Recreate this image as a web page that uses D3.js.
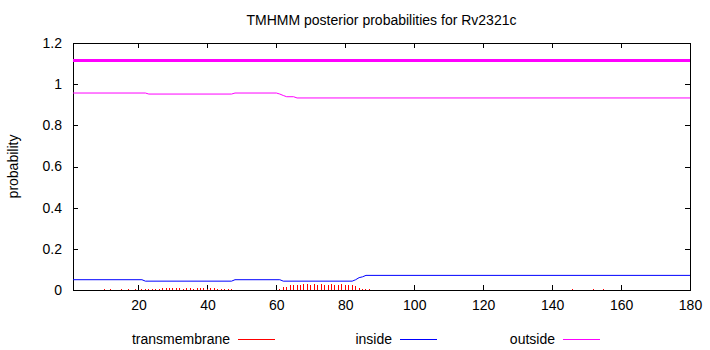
<!DOCTYPE html>
<html>
<head>
<meta charset="utf-8">
<script src="https://cdn.jsdelivr.net/npm/d3@7"></script>
<style>
  body { margin: 0; background: #fff; }
  text { font-family: "Liberation Sans", Arial, sans-serif; font-size: 14px; fill: #000; }
</style>
</head>
<body>
<div class="chart"></div>
<script>
// residue positions / probabilities
const outsidePos = [1, 22, 23, 47, 48, 60, 61, 62, 63, 65, 66, 180];
const outsideVal = [0.957, 0.957, 0.952, 0.952, 0.957, 0.957, 0.952, 0.945, 0.939, 0.939, 0.933, 0.933];

const insidePos = [1, 21, 22, 47, 48, 61, 62, 82, 83, 84, 85, 86, 180];
const insideVal = [0.050, 0.050, 0.043, 0.043, 0.050, 0.050, 0.043, 0.043, 0.050, 0.060, 0.064, 0.071, 0.071];

const tmPos = [10, 12, 15, 17, 19, 21, 22, 23, 24, 25, 26, 27, 28, 29, 30, 31, 32, 33, 34, 35, 36, 37, 38, 39, 40,
  41, 42, 43, 44, 45, 46, 47, 61, 62, 63, 64, 65, 66, 67, 68, 69, 70, 71, 72, 73, 74, 75, 76, 77, 78, 79, 80,
  81, 82, 83, 84, 85, 86, 87, 146, 152, 155];
const tmVal = [0.004, 0.004, 0.004, 0.004, 0.005, 0.005, 0.005, 0.006, 0.006, 0.006, 0.007, 0.009, 0.011, 0.011, 0.012, 0.009,
  0.011, 0.006, 0.008, 0.011, 0.006, 0.008, 0.009, 0.011, 0.006, 0.011, 0.008, 0.006, 0.006, 0.006, 0.006, 0.005,
  0.005, 0.014, 0.016, 0.026, 0.026, 0.026, 0.026, 0.027, 0.029, 0.026, 0.029, 0.024, 0.029, 0.026, 0.026, 0.029,
  0.024, 0.026, 0.029, 0.026, 0.026, 0.026, 0.020, 0.008, 0.005, 0.005, 0.004, 0.003, 0.003, 0.003];

// predicted topology band drawn above the curves
const topoStart = [1];
const topoEnd = [180];
const topoLevel = 1.115;

const xTicks = [20, 40, 60, 80, 100, 120, 140, 160, 180];
const yTicks = [0, 0.2, 0.4, 0.6, 0.8, 1, 1.2];
const yTickLabels = ["0", "0.2", "0.4", "0.6", "0.8", "1", "1.2"];

const legendNames = ["transmembrane", "inside", "outside"];
const legendColors = ["#ff0000", "#0000ff", "#ff00ff"];

const W = 710, H = 350;
const margin = { top: 43, right: 20, bottom: 60, left: 73 };
const width = W - margin.left - margin.right;
const height = H - margin.top - margin.bottom;

const svg = d3.select(".chart").append("svg")
  .attr("width", W).attr("height", H);

const g = svg.append("g").attr("transform", `translate(${margin.left},${margin.top})`);

const x = d3.scaleLinear().domain([1, 180]).range([0, width]);
const y = d3.scaleLinear().domain([0, 1.2]).range([height, 0]);

// title
svg.append("text")
  .attr("x", margin.left + width / 2).attr("y", 25)
  .attr("text-anchor", "middle")
  .text("TMHMM posterior probabilities for Rv2321c");

// y label
svg.append("text")
  .attr("transform", `translate(18,${margin.top + height / 2}) rotate(-90)`)
  .attr("text-anchor", "middle")
  .text("probability");

// axes, ticks inward on all four sides
const fmtY = d => yTickLabels[yTicks.indexOf(d)];
g.append("g").attr("transform", `translate(0,${height})`)
  .call(d3.axisBottom(x).tickValues(xTicks).tickSizeInner(-5).tickSizeOuter(0).tickPadding(10));
g.append("g")
  .call(d3.axisTop(x).tickValues(xTicks).tickSizeInner(-5).tickSizeOuter(0).tickFormat(""));
g.append("g")
  .call(d3.axisLeft(y).tickValues(yTicks).tickFormat(fmtY).tickSizeInner(-5).tickSizeOuter(0).tickPadding(11));
g.append("g").attr("transform", `translate(${width},0)`)
  .call(d3.axisRight(y).tickValues(yTicks).tickSizeInner(-5).tickSizeOuter(0).tickFormat(""));

g.selectAll(".domain").remove();
g.selectAll(".tick line").attr("stroke", "#000").attr("shape-rendering", "crispEdges");
g.selectAll(".tick text").style("font-family", "'Liberation Sans', Arial, sans-serif").style("font-size", "14px");

g.append("rect")
  .attr("x", 0).attr("y", 0).attr("width", width).attr("height", height)
  .attr("fill", "none").attr("stroke", "#000").attr("shape-rendering", "crispEdges");

// transmembrane impulses
g.selectAll(".tm")
  .data(tmPos.map((p, i) => ({ p, v: tmVal[i] })))
  .enter().append("line")
  .attr("class", "tm")
  .attr("x1", d => x(d.p)).attr("x2", d => x(d.p))
  .attr("y1", y(0)).attr("y2", d => y(d.v))
  .attr("stroke", legendColors[0]).attr("stroke-width", 1)
  .attr("shape-rendering", "crispEdges");

const line = d3.line().x(d => x(d[0])).y(d => y(d[1]));

g.append("path")
  .datum(insidePos.map((p, i) => [p, insideVal[i]]))
  .attr("d", line).attr("fill", "none")
  .attr("stroke", legendColors[1]).attr("stroke-width", 1);

g.append("path")
  .datum(outsidePos.map((p, i) => [p, outsideVal[i]]))
  .attr("d", line).attr("fill", "none")
  .attr("stroke", legendColors[2]).attr("stroke-width", 1);

// topology band
g.selectAll(".topo")
  .data(topoStart.map((s, i) => [s, topoEnd[i]]))
  .enter().append("line")
  .attr("x1", d => x(d[0])).attr("x2", d => x(d[1]))
  .attr("y1", y(topoLevel)).attr("y2", y(topoLevel))
  .attr("stroke", legendColors[2]).attr("stroke-width", 3);

// legend
const legendTextEnd = [230, 392, 555];
const lg = svg.append("g");
legendNames.forEach((name, i) => {
  lg.append("text")
    .attr("x", legendTextEnd[i]).attr("y", 344)
    .attr("text-anchor", "end")
    .text(name);
  lg.append("line")
    .attr("x1", legendTextEnd[i] + 8).attr("x2", legendTextEnd[i] + 45)
    .attr("y1", 339.5).attr("y2", 339.5)
    .attr("stroke", legendColors[i]).attr("stroke-width", 1)
    .attr("shape-rendering", "crispEdges");
});
</script>
</body>
</html>
